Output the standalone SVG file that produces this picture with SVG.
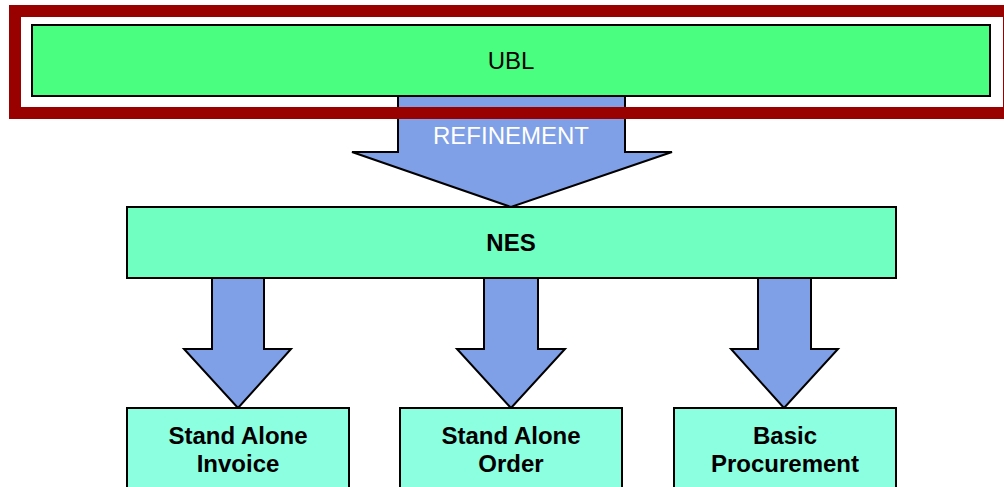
<svg xmlns="http://www.w3.org/2000/svg" width="1004" height="487" viewBox="0 0 1004 487">
  <style>
    .box { stroke: #000; stroke-width: 2; }
    .arrow { fill: #7F9FE6; stroke: #000; stroke-width: 2; stroke-linejoin: miter; }
    .lbl { font-family: "Liberation Sans", Arial, sans-serif; font-size: 24px; text-anchor: middle; }
    .bold { font-weight: bold; fill: #000; }
  </style>
  <rect width="1004" height="487" fill="#fff"/>
  <g id="connectors">
    <!-- refinement arrow from UBL to NES -->
    <path class="arrow" d="M398,94 L625,94 L625,152 L672,152 L511,207 L352,152 L398,152 Z"/>
    <path class="arrow" d="M212,278 L264,278 L264,349 L291,349 L238,408 L184,349 L212,349 Z"/>
    <path class="arrow" d="M484,278 L538,278 L538,349 L565,349 L511,408 L457,349 L484,349 Z"/>
    <path class="arrow" d="M758,278 L811,278 L811,349 L838,349 L784,408 L731,349 L758,349 Z"/>
    <text class="lbl" x="511" y="144" fill="#fff">REFINEMENT</text>
  </g>
  <g id="ubl">
    <rect class="box" x="32" y="25" width="958" height="71" fill="#4AFF80"/>
    <text class="lbl" x="511" y="69" fill="#000" font-size="23">UBL</text>
  </g>
  <!-- highlight frame around UBL -->
  <rect id="highlight" x="15" y="11" width="994" height="102" fill="none" stroke="#990000" stroke-width="12"/>
  <g id="nes">
    <rect class="box" x="127" y="207" width="769" height="71" fill="#70FFC0"/>
    <text class="lbl bold" x="511" y="251">NES</text>
  </g>
  <g id="invoice">
    <rect class="box" x="127" y="408" width="222" height="90" fill="#8CFFE0"/>
    <text class="lbl bold" x="238" y="444">Stand Alone</text>
    <text class="lbl bold" x="238" y="472">Invoice</text>
  </g>
  <g id="order">
    <rect class="box" x="400" y="408" width="222" height="90" fill="#8CFFE0"/>
    <text class="lbl bold" x="511" y="444">Stand Alone</text>
    <text class="lbl bold" x="511" y="472">Order</text>
  </g>
  <g id="procurement">
    <rect class="box" x="674" y="408" width="222" height="90" fill="#8CFFE0"/>
    <text class="lbl bold" x="785" y="444">Basic</text>
    <text class="lbl bold" x="785" y="472">Procurement</text>
  </g>
</svg>
